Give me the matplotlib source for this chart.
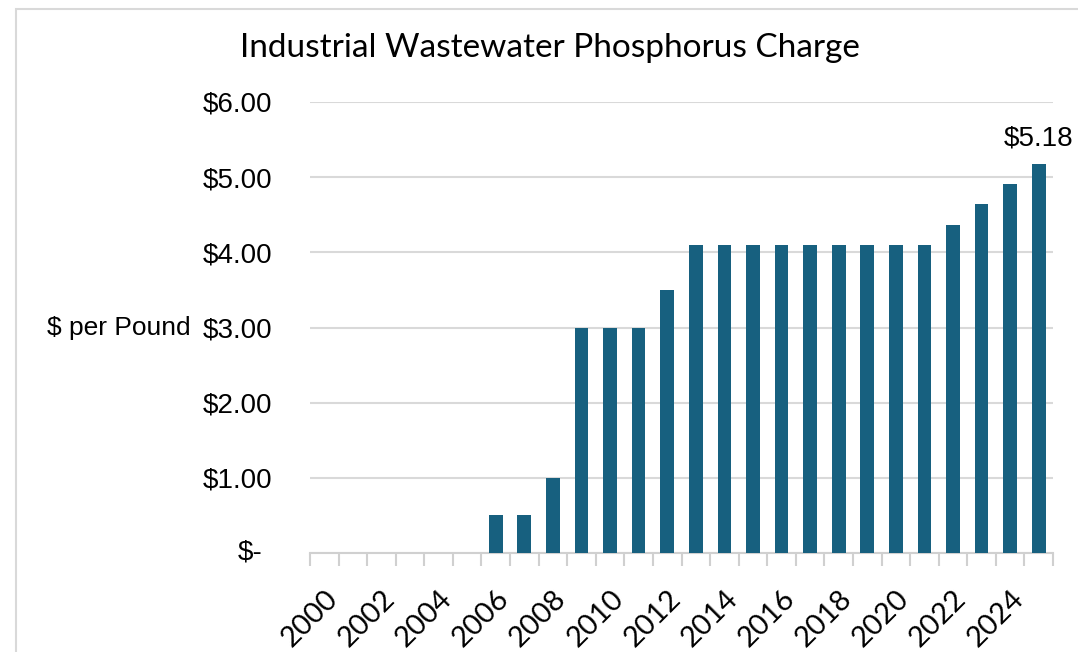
import matplotlib.pyplot as plt
from matplotlib.patches import Rectangle

years = list(range(2000, 2026))
charge = [0, 0, 0, 0, 0, 0, 0.5, 0.5, 1.0, 3.0, 3.0, 3.0, 3.5,
          4.1, 4.1, 4.1, 4.1, 4.1, 4.1, 4.1, 4.1, 4.1,
          4.37, 4.64, 4.91, 5.18]
yticks = [0, 1, 2, 3, 4, 5, 6]
ytick_labels = ["", "$1.00", "$2.00", "$3.00", "$4.00", "$5.00", "$6.00"]
year_labels = [str(y) if y % 2 == 0 else "" for y in years]

W, H = 1078, 652
fig = plt.figure(figsize=(W / 100, H / 100), dpi=100)
ax = fig.add_axes([310 / W, 1 - 553 / H, (1053 - 310) / W, (553 - 102) / H])

# chart border (only top/left visible in the crop)
fig.patches.append(Rectangle((16 / W, -0.1), 1.2, 1.1 - 9 / H,
                             transform=fig.transFigure, fill=False,
                             edgecolor="#d9d9d9", linewidth=1.5))

x = list(range(len(years)))
ax.bar(x, charge, width=0.48, color="#17607f", zorder=3)

ax.set_xlim(-0.5, len(years) - 0.5)
ax.set_ylim(0, 6)
ax.set_yticks(yticks)
ax.set_yticklabels(ytick_labels, fontsize=20, family="Liberation Sans")
ax.tick_params(axis="y", length=0, pad=27)
ax.yaxis.grid(True, color="#d9d9d9", linewidth=1.5, zorder=0)

# zero label in accounting style
ax.annotate("$-", xy=(0, 0), xycoords=("axes fraction", "data"),
            xytext=(-48, 0), textcoords="offset pixels", ha="right", va="center",
            fontsize=20, family="Liberation Sans")

ax.set_xticks(x)
ax.set_xticklabels(year_labels, rotation=45, ha="right", rotation_mode="anchor",
                   fontsize=21, family="Lato")
ax.tick_params(axis="x", length=0, pad=23)
ax.set_xticks([i - 0.5 for i in range(len(years) + 1)], minor=True)
ax.tick_params(axis="x", which="minor", length=9, color="#d0d0d0", width=1.5)

for s in ["top", "right", "left"]:
    ax.spines[s].set_visible(False)
ax.spines["bottom"].set_color("#d0d0d0")
ax.spines["bottom"].set_linewidth(1.5)

ax.annotate(f"${charge[-1]:.2f}", xy=(x[-1], charge[-1]), xytext=(0, 9),
            textcoords="offset points", ha="center", va="bottom",
            fontsize=20, family="Liberation Sans")

fig.text(47 / W, 1 - 328 / H, "$ per Pound", ha="left", va="center",
         fontsize=19, family="Liberation Sans")
fig.text(550 / W, 1 - 48 / H, "Industrial Wastewater Phosphorus Charge",
         ha="center", va="center", fontsize=24, family="Lato")

fig.savefig("out.png", dpi=100)
